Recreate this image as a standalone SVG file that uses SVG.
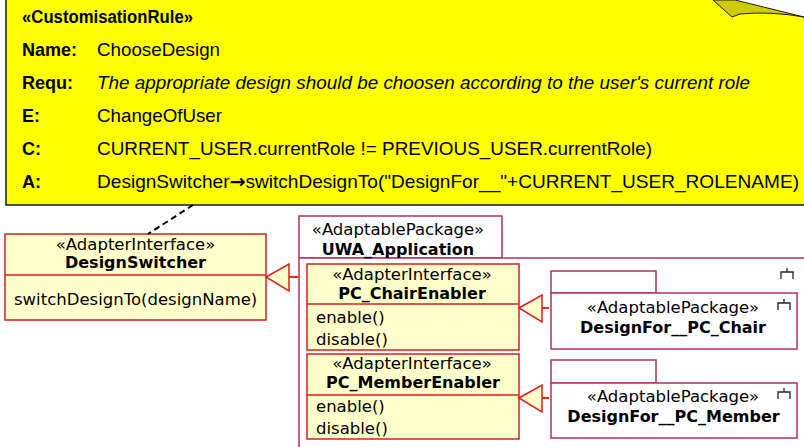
<svg xmlns="http://www.w3.org/2000/svg" width="804" height="447" viewBox="0 0 804 447">
  <style>
    .note { fill: #ffff00; stroke: #1a1a1a; stroke-width: 1.5; }
    .fold { fill: #cccc00; stroke: #1a1a1a; stroke-width: 1; }
    .nt { font-family: "Liberation Sans", Arial, sans-serif; fill: #000; }
    .nl { font-size: 18px; font-weight: bold; }
    .nv { font-size: 19px; }
    .arrow { font-family: "DejaVu Sans", sans-serif; font-weight: bold; }
    .cls { fill: #ffffcc; stroke: #d42020; stroke-width: 1.5; }
    .pkg { fill: #ffffff; stroke: #b3305f; stroke-width: 1.5; }
    .ut { font-family: "DejaVu Sans", "Liberation Sans", sans-serif; font-size: 16.5px; fill: #000; }
    .ub { font-weight: bold; font-size: 16px; }
    .mid { text-anchor: middle; }
    .icon { fill: none; stroke: #222; stroke-width: 1.3; }
    .dep { fill: none; stroke: #000; stroke-width: 2; stroke-dasharray: 6 4; }
    .gen { fill: #ffffcc; stroke: #d42020; stroke-width: 1.5; }
    .genline { fill: none; stroke: #e03010; stroke-width: 2; }
  </style>

  <!-- customisation rule note -->
  <g id="rule-note">
    <rect class="note" x="6" y="-4" width="810" height="209"/>
    <polygon points="735,0 804,0 804,17" fill="#ffffff"/>
    <path class="fold" d="M713,0 L735,0 L804,17 Q770,11 740,14 L732,17 Z"/>
    <text class="nt nl" x="22" y="23" font-size="16" textLength="171" lengthAdjust="spacingAndGlyphs">«CustomisationRule»</text>
    <text class="nt nl" x="22" y="56">Name:</text>
    <text class="nt nv" x="97" y="56" textLength="123" lengthAdjust="spacingAndGlyphs">ChooseDesign</text>
    <text class="nt nl" x="22" y="89">Requ:</text>
    <text class="nt nv" x="97" y="89" font-style="italic" textLength="653" lengthAdjust="spacingAndGlyphs">The appropriate design should be choosen according to the user's current role</text>
    <text class="nt nl" x="22" y="122">E:</text>
    <text class="nt nv" x="97" y="122" textLength="125" lengthAdjust="spacingAndGlyphs">ChangeOfUser</text>
    <text class="nt nl" x="22" y="155">C:</text>
    <text class="nt nv" x="97" y="155" textLength="555" lengthAdjust="spacingAndGlyphs">CURRENT_USER.currentRole != PREVIOUS_USER.currentRole)</text>
    <text class="nt nl" x="22" y="188">A:</text>
    <text class="nt nv" x="97" y="188" textLength="702" lengthAdjust="spacingAndGlyphs">DesignSwitcher<tspan class="arrow">→</tspan>switchDesignTo("DesignFor__"+CURRENT_USER_ROLENAME)</text>
  </g>

  <!-- outer application package -->
  <g id="uwa-application">
    <rect class="pkg" x="299" y="216" width="203" height="42"/>
    <path class="pkg" d="M299,460 L299,258 L810,258"/>
    <text class="ut mid" x="398" y="235">«AdaptablePackage»</text>
    <text class="ut ub mid" x="398" y="255">UWA_Application</text>
    <path class="icon" d="M787,268 L787,272 M781,279 L781,272 L793,272 L793,279"/>
  </g>

  <g id="design-switcher">
    <rect class="cls" x="5" y="234" width="261" height="86"/>
    <line class="cls" x1="5" y1="275" x2="266" y2="275"/>
    <text class="ut mid" x="135.5" y="250">«AdapterInterface»</text>
    <text class="ut ub mid" x="135.5" y="268">DesignSwitcher</text>
    <text class="ut" x="14" y="305">switchDesignTo(designName)</text>
  </g>

  <g id="pc-chair-enabler">
    <rect class="cls" x="307" y="264" width="212" height="86"/>
    <line class="cls" x1="307" y1="304" x2="519" y2="304"/>
    <text class="ut mid" x="412" y="280">«AdapterInterface»</text>
    <text class="ut ub mid" x="412" y="299">PC_ChairEnabler</text>
    <text class="ut" x="316" y="323">enable()</text>
    <text class="ut" x="316" y="345">disable()</text>
  </g>

  <g id="pc-member-enabler">
    <rect class="cls" x="307" y="354" width="212" height="85"/>
    <line class="cls" x1="307" y1="395" x2="519" y2="395"/>
    <text class="ut mid" x="412" y="369">«AdapterInterface»</text>
    <text class="ut ub mid" x="413" y="388">PC_MemberEnabler</text>
    <text class="ut" x="316" y="412">enable()</text>
    <text class="ut" x="316" y="434">disable()</text>
  </g>

  <g id="design-for-pc-chair">
    <rect class="pkg" x="551" y="271" width="105" height="22"/>
    <rect class="pkg" x="551" y="293" width="246" height="56"/>
    <text class="ut mid" x="673" y="313">«AdaptablePackage»</text>
    <text class="ut ub mid" x="673" y="333">DesignFor__PC_Chair</text>
    <path class="icon" d="M784,299 L784,303 M778,310 L778,303 L790,303 L790,310"/>
  </g>

  <g id="design-for-pc-member">
    <rect class="pkg" x="551" y="360" width="105" height="23"/>
    <rect class="pkg" x="551" y="383" width="246" height="55"/>
    <text class="ut mid" x="673" y="402">«AdaptablePackage»</text>
    <text class="ut ub mid" x="673.5" y="422">DesignFor__PC_Member</text>
    <path class="icon" d="M784,388 L784,392 M778,399 L778,392 L790,392 L790,399"/>
  </g>

  <!-- connectors -->
  <g id="connectors">
    <line class="dep" x1="193" y1="205" x2="148" y2="234"/>
    <line class="genline" x1="289" y1="277" x2="298" y2="277"/>
    <polygon class="gen" points="266,277 289,264 289,291"/>
    <line class="genline" x1="542" y1="308" x2="549" y2="308"/>
    <polygon class="gen" points="519,308 542,295 542,322"/>
    <line class="genline" x1="542" y1="398" x2="549" y2="398"/>
    <polygon class="gen" points="519,398 542,385 542,412"/>
  </g>
</svg>
